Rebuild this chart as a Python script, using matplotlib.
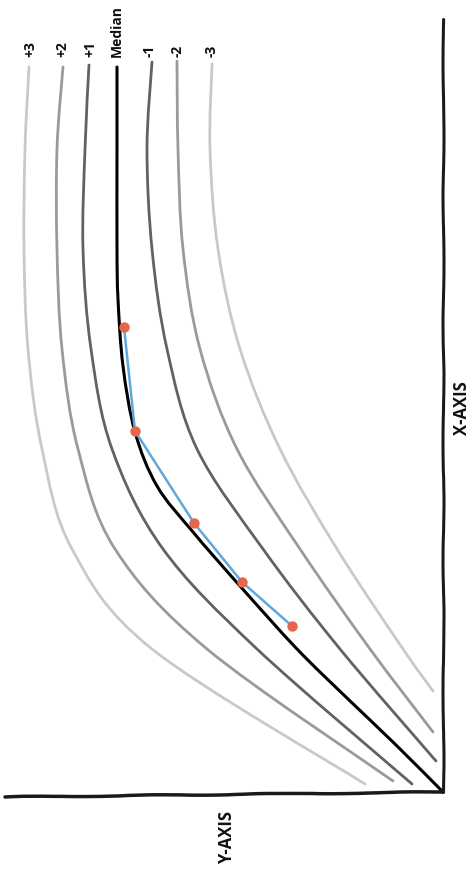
import numpy as np
import matplotlib
matplotlib.use("Agg")
import matplotlib.pyplot as plt
from matplotlib.path import Path
from matplotlib.patches import PathPatch

plt.rcParams['font.family'] = ['Open Sans', 'DejaVu Sans']

# ---- data (original orientation: age along x-axis, value along y-axis) ----
labels = ["+3", "+2", "+1", "Median", "-1", "-2", "-3"]

age_p3 = [72.5, 64.3, 54.3, 44.3, 34.3, 24.3, 14.3, 0.8]
val_p3 = [41.4, 41.8, 41.9, 41.5, 40.1, 37.1, 29.1, 7.8]

age_p2 = [72.5, 64.3, 54.3, 44.3, 34.3, 24.3, 14.3, 1.1]
val_p2 = [38.0, 38.6, 38.6, 38.1, 36.5, 32.8, 23.6, 5.0]

age_p1 = [72.7, 64.3, 54.3, 44.3, 34.3, 24.3, 14.3, 0.8]
val_p1 = [35.4, 35.8, 36.0, 35.2, 33.1, 28.0, 18.6, 3.1]

age_med = [72.5, 64.3, 54.3, 49.3, 42.6, 36.0, 30.6, 26.0, 20.6, 14.3, 9.3, 4.8, 0.0]
val_med = [32.6, 32.6, 32.6, 32.5, 32.0, 30.8, 28.6, 25.0, 20.3, 14.6, 9.5, 4.8, 0.0]

age_m1 = [73.0, 64.3, 54.3, 44.3, 34.3, 24.3, 14.3, 3.1]
val_m1 = [29.1, 29.6, 29.1, 27.6, 24.6, 18.0, 10.3, 0.7]

age_m2 = [73.1, 64.3, 54.3, 44.3, 34.3, 24.3, 14.3, 6.0]
val_m2 = [26.6, 26.5, 26.0, 24.3, 20.6, 14.3, 7.3, 1.0]

age_m3 = [72.8, 64.3, 54.3, 44.3, 34.3, 24.3, 14.3, 10.1]
val_m3 = [23.1, 23.3, 22.5, 20.3, 16.3, 10.6, 4.0, 1.0]

patient_age = [16.6, 21.0, 26.9, 36.1, 46.5]
patient_val = [15.1, 20.1, 24.9, 30.8, 31.9]

curves = [(age_p3, val_p3), (age_p2, val_p2), (age_p1, val_p1), (age_med, val_med),
          (age_m1, val_m1), (age_m2, val_m2), (age_m3, val_m3)]
colors = ["#c9c9c9", "#9a9a9a", "#626262", "#000000", "#626262", "#9a9a9a", "#c9c9c9"]
widths = [2.0, 2.0, 2.0, 2.2, 2.0, 2.0, 2.0]


def smooth_path(px, py):
    """Catmull-Rom through points, expressed as cubic Bezier path."""
    P = np.column_stack([px, py]).astype(float)
    n = len(P)
    verts = [P[0]]
    codes = [Path.MOVETO]
    for i in range(n - 1):
        p0 = P[i - 1] if i > 0 else P[i]
        p1 = P[i]
        p2 = P[i + 1]
        p3 = P[i + 2] if i + 2 < n else P[i + 1]
        c1 = p1 + (p2 - p0) / 6.0
        c2 = p2 - (p3 - p1) / 6.0
        verts += [c1, c2, p2]
        codes += [Path.CURVE4] * 3
    return Path(verts, codes)


fig = plt.figure(figsize=(4.77, 8.79), dpi=100)
ax = fig.add_axes([5 / 477, (879 - 793) / 879, 438 / 477, 773 / 879])
ax.set_xlim(43.8, 0)
ax.set_ylim(0, 77.3)
ax.axis('off')

# rotated chart: horizontal screen axis = value (increasing leftward), vertical = age
for (a, v), c, w in zip(curves, colors, widths):
    patch = PathPatch(smooth_path(v, a), fill=False, edgecolor=c, lw=w,
                      capstyle='round', clip_on=False)
    ax.add_patch(patch)

label_pos = [41.3, 38.1, 35.3, 32.6, 29.3, 26.5, 23.1]
for lab, yv in zip(labels, label_pos):
    ax.text(yv, 73.6, lab, rotation=90, ha='center', va='bottom',
            fontsize=10, fontweight='bold', color='#111111', clip_on=False)

ax.plot(patient_val, patient_age, color='#5fa8dc', lw=1.8, zorder=4)
ax.plot(patient_val, patient_age, 'o', color='#e5674b', ms=7.5, zorder=5,
        markeredgewidth=0)

# hand-drawn axes
l1, = ax.plot([0, 0], [0, 77.3], color='#1a1a1a', lw=2.2, clip_on=False,
              solid_capstyle='round')
l1.set_sketch_params(scale=0.5, length=200, randomness=5)
l2, = ax.plot([0, 43.8], [0, -0.5], color='#1a1a1a', lw=2.5, clip_on=False,
              solid_capstyle='round')
l2.set_sketch_params(scale=0.5, length=200, randomness=5)

ax.text(-1.9, 38.5, "X-AXIS", rotation=90, ha='center', va='center',
        fontsize=12, fontweight='bold', color='#111111', clip_on=False)
ax.text(21.6, -4.5, "Y-AXIS", rotation=90, ha='center', va='center',
        fontsize=12, fontweight='bold', color='#111111', clip_on=False)

fig.savefig("out.png", dpi=100)
